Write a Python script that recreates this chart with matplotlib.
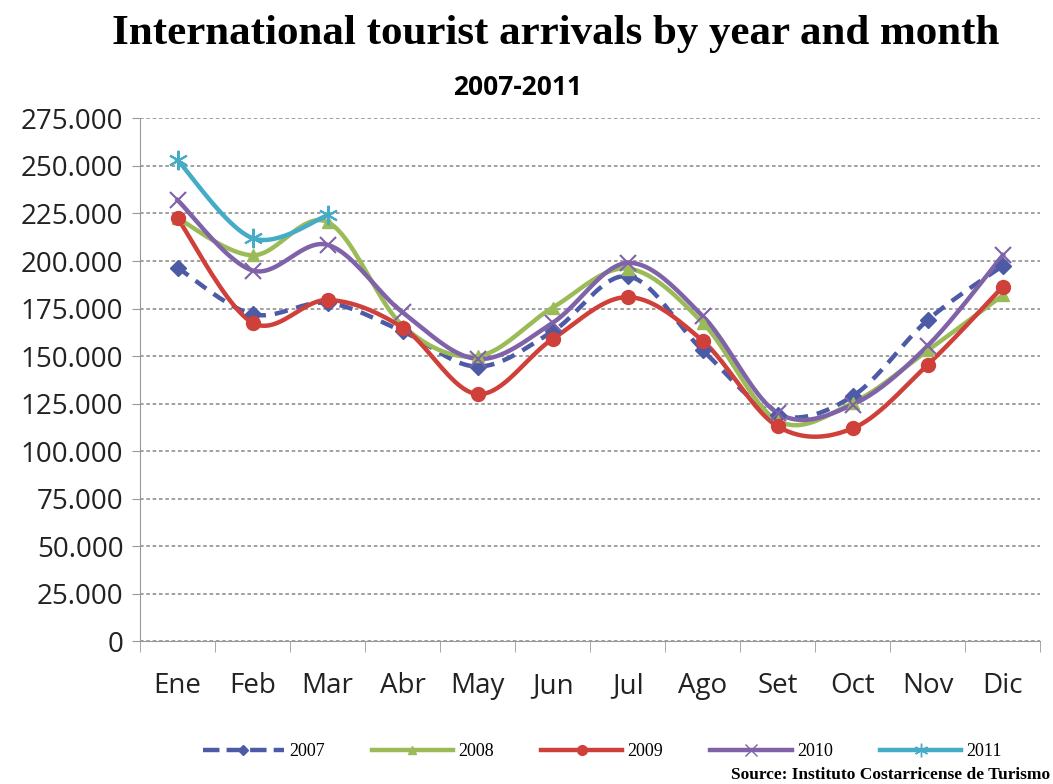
import matplotlib.pyplot as plt
import numpy as np
from matplotlib.ticker import FuncFormatter

months = ['Ene', 'Feb', 'Mar', 'Abr', 'May', 'Jun', 'Jul', 'Ago', 'Set', 'Oct', 'Nov', 'Dic']
y2007 = [196500, 172000, 178000, 163000, 144500, 163000, 192000, 153000, 119000, 129000, 169000, 197500]
y2008 = [222500, 203000, 220500, 166000, 150000, 175500, 196000, 167500, 116000, 125500, 153000, 182000]
y2009 = [222500, 167500, 179500, 165000, 130000, 159000, 181000, 158000, 113000, 112000, 145500, 186500]
y2010 = [232000, 195000, 208500, 173000, 148500, 167500, 199000, 171000, 120000, 124500, 155500, 203000]
y2011 = [253000, 212000, 224000]


def smooth(x, y, n=24):
    # bezier with catmull-rom style control points, like Excel's smoothed line
    x = np.asarray(x, float)
    y = np.asarray(y, float)
    px = np.concatenate([[x[0]], x, [x[-1]]])
    py = np.concatenate([[y[0]], y, [y[-1]]])
    xs, ys = [], []
    t = np.linspace(0, 1, n)
    for i in range(1, len(px) - 2):
        p0 = np.array([px[i], py[i]])
        p3 = np.array([px[i + 1], py[i + 1]])
        c1 = p0 + (p3 - np.array([px[i - 1], py[i - 1]])) / 6
        c2 = p3 - (np.array([px[i + 2], py[i + 2]]) - p0) / 6
        b = ((1 - t) ** 3)[:, None] * p0 + (3 * (1 - t) ** 2 * t)[:, None] * c1 \
            + (3 * (1 - t) * t ** 2)[:, None] * c2 + (t ** 3)[:, None] * p3
        xs.append(b[:, 0])
        ys.append(b[:, 1])
    return np.concatenate(xs), np.concatenate(ys)


series = [
    ('2007', y2007, '#4d5aa6', 'D', '--', 8),
    ('2008', y2008, '#9bbb59', '^', '-', 9),
    ('2009', y2009, '#d0403a', 'o', '-', 10),
    ('2010', y2010, '#7f62a8', 'x', '-', 12),
    ('2011', y2011, '#45acc8', (6, 2, 0), '-', 14),
]

fig = plt.figure(figsize=(10.53, 7.84), dpi=100)
ax = fig.add_axes([0.133, 0.182, 0.855, 0.667])

handles = []
for name, vals, color, mk, ls, ms in series:
    x = np.arange(len(vals))
    sx, sy = smooth(x, vals)
    ax.plot(sx, sy, color=color, lw=3.2, ls=ls, dashes=(3, 2) if ls == '--' else (None, None), zorder=3)
    ax.plot(x, vals, ls='none', marker=mk, ms=ms, color=color, mec=color,
            mew=1.5 if mk in ('x', (6, 2, 0)) else 1, zorder=4)
    h, = plt.plot([], [], color=color, lw=3.2, ls=ls, marker=mk, ms=ms * 0.7, mew=1)
    handles.append(h)

ax.set_xlim(-0.5, 11.5)
ax.set_ylim(0, 275000)
ax.set_yticks(np.arange(0, 275001, 25000))
ax.yaxis.set_major_formatter(FuncFormatter(lambda v, p: '0' if v == 0 else f'{int(v):,}'.replace(',', '.')))
ax.set_xticks(np.arange(12))
ax.set_xticklabels(months)
ax.set_xticks(np.arange(-0.5, 12, 1), minor=True)
ax.tick_params(axis='x', which='major', length=0, pad=22, labelsize=20, labelcolor='#222222')
ax.tick_params(axis='x', which='minor', length=8, color='#999999', direction='out')
ax.tick_params(axis='y', length=6, color='#999999', labelsize=20, labelcolor='#222222', pad=6)
for lab in ax.get_xticklabels() + ax.get_yticklabels():
    lab.set_family('Open Sans')

ax.grid(axis='y', color='#999999', ls=(0, (2, 1.5)), lw=1.3)
for s in ('top', 'right'):
    ax.spines[s].set_visible(False)
ax.spines['left'].set_color('#999999')
ax.spines['bottom'].set_color('#999999')
ax.set_axisbelow(True)

fig.text(0.528, 0.957, 'International tourist arrivals by year and month', ha='center', va='center',
         fontsize=31, fontweight='bold', family='Liberation Serif')
fig.text(0.491, 0.889, '2007-2011', ha='center', va='center', fontsize=19, fontweight='bold', family='Open Sans')

fig.legend(handles=handles, labels=[s[0] for s in series], loc='center', bbox_to_anchor=(0.572, 0.041),
           ncol=5, frameon=False, prop={'family': 'Liberation Serif', 'size': 13},
           handlelength=4.5, columnspacing=2.6, handletextpad=0.3)
fig.text(0.997, 0.012, 'Source: Instituto Costarricense de Turismo', ha='right', va='center',
         fontsize=12.5, fontweight='bold', family='Liberation Serif')

fig.savefig('out.png', dpi=100)
